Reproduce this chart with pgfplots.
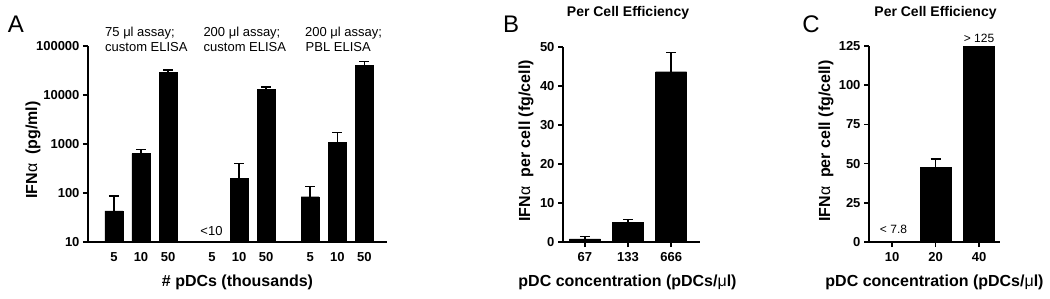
\documentclass[border=0pt]{standalone}
\usepackage{fontspec}
\setmainfont{Liberation Sans}
\usepackage{pgfplots}
\pgfplotsset{compat=1.18}
\usepackage{pgfplotstable}

\pgfplotstableread{
x y ey
1 43 43
2 640 126
3 29000 3400
5.63 200 196
6.63 13100 1460
8.26 84 53
9.26 1090 610
10.26 40900 7000
}\dataA

\pgfplotstableread{
x y ey
1 0.8 0.56
2 5.0 0.7
3 43.6 4.9
}\dataB

\pgfplotstableread{
x y ey
2 47.6 5.3
}\dataCerr

\pgfplotstableread{
x y
3 125
}\dataCcap

\pgfplotsset{
  panel/.style={
    scale only axis,
    axis x line=bottom, axis y line=left,
    axis line style={line width=2pt,-},
    tick align=outside,
    major tick length=5pt,
    every tick/.style={line width=1.6pt, black},
    ticklabel style={font=\fontsize{13}{13}\selectfont\bfseries},
    xticklabel style={yshift=-2pt},
    /pgf/number format/assume math mode=true,
    label style={font=\fontsize{16}{16}\selectfont\bfseries},
    ybar, bar shift=0pt,
    clip=false,
  },
  errs/.style={
    error bars/.cd, y dir=plus, y explicit,
    error bar style={line width=1.5pt, black},
    error mark options={rotate=90, line width=1.5pt, mark size=5pt, black},
  },
}

\begin{document}
\begin{tikzpicture}
\useasboundingbox (0,0) rectangle (1050pt,298pt);

% ---------------- Panel A ----------------
\begin{axis}[panel,
  at={(88pt,56pt)}, anchor=south west,
  width=299pt, height=196pt,
  xmin=0.04, xmax=11.1,
  ymode=log, ymin=10, ymax=100000, log origin=infty,
  ytick={10,100,1000,10000,100000},
  yticklabels={10,100,1000,10000,100000},
  yminorticks=false,
  xtick={1,2,3,4.63,5.63,6.63,8.26,9.26,10.26},
  xticklabels={5,10,50,5,10,50,5,10,50},
  x tick style={draw=none},
  bar width=18pt,
  xlabel={\# pDCs (thousands)},
  xlabel style={at={(axis description cs:0.5,0)}, anchor=center, yshift=-40pt},
  ylabel={IFN{\mdseries α}\ \ (pg/ml)},
  ylabel style={at={(axis description cs:-0.184,0.469)}, anchor=center},
]
\addplot[fill=black, draw=black, errs] table[x=x, y=y, y error=ey] {\dataA};
\end{axis}

% ---------------- Panel B ----------------
\begin{axis}[panel,
  at={(563pt,56pt)}, anchor=south west,
  width=137pt, height=195.3pt,
  xmin=0.49, xmax=3.67,
  ymin=0, ymax=50,
  ytick={0,10,20,30,40,50},
  xtick={1,2,3},
  xticklabels={67,133,666},
  bar width=31pt,
  xlabel={pDC concentration (pDCs/{\mdseries μ}l)},
  xlabel style={at={(axis description cs:0.5,0)}, anchor=center, yshift=-40pt, xshift=-4pt},
  ylabel={IFN{\mdseries α}\ \ per cell (fg/cell)},
  ylabel style={at={(axis description cs:-0.27,0.518)}, anchor=center},
]
\addplot[fill=black, draw=black, errs] table[x=x, y=y, y error=ey] {\dataB};
\end{axis}

% ---------------- Panel C ----------------
\begin{axis}[panel,
  at={(869pt,56pt)}, anchor=south west,
  width=131pt, height=196pt,
  xmin=0.47, xmax=3.48,
  ymin=0, ymax=125,
  ytick={0,25,50,75,100,125},
  xtick={1,2,3},
  xticklabels={10,20,40},
  bar width=31pt,
  xlabel={pDC concentration (pDCs/{\mdseries μ}l)},
  xlabel style={at={(axis description cs:0.5,0)}, anchor=center, yshift=-40pt},
  ylabel={IFN{\mdseries α}\ \ per cell (fg/cell)},
  ylabel style={at={(axis description cs:-0.328,0.515)}, anchor=center},
]
\addplot[fill=black, draw=black, errs] table[x=x, y=y, y error=ey] {\dataCerr};
\addplot[fill=black, draw=black] table[x=x, y=y] {\dataCcap};
\end{axis}

% ---------------- Titles ----------------
\node[font=\fontsize{14}{14}\selectfont\bfseries, inner sep=0pt] at (628pt,284.7pt) {Per Cell Efficiency};
\node[font=\fontsize{14}{14}\selectfont\bfseries, inner sep=0pt] at (935.5pt,284.7pt) {Per Cell Efficiency};

% ---------------- Annotations ----------------
\begin{scope}[every node/.style={font=\fontsize{13}{13}\selectfont, inner sep=0pt}]
\node[anchor=base west] at (105pt,261.3pt) {75 μl assay;};
\node[anchor=base west] at (105pt,247pt) {custom ELISA};
\node[anchor=base west] at (203.3pt,261.3pt) {200 μl assay;};
\node[anchor=base west] at (203.5pt,247pt) {custom ELISA};
\node[anchor=base west] at (305pt,261.3pt) {200 μl assay;};
\node[anchor=base west] at (305.5pt,247pt) {PBL ELISA};
\node at (211.5pt,67.3pt) {<10};
\node[font=\fontsize{12}{12}\selectfont] at (893.5pt,69pt) {< 7.8};
\node[font=\fontsize{12}{12}\selectfont] at (979pt,260pt) {> 125};
\end{scope}

\begin{scope}[every node/.style={font=\fontsize{24}{24}\selectfont, inner sep=0pt}]
\node at (16pt,274pt) {A};
\node at (511pt,274pt) {B};
\node at (811pt,274pt) {C};
\end{scope}
\end{tikzpicture}
\end{document}
